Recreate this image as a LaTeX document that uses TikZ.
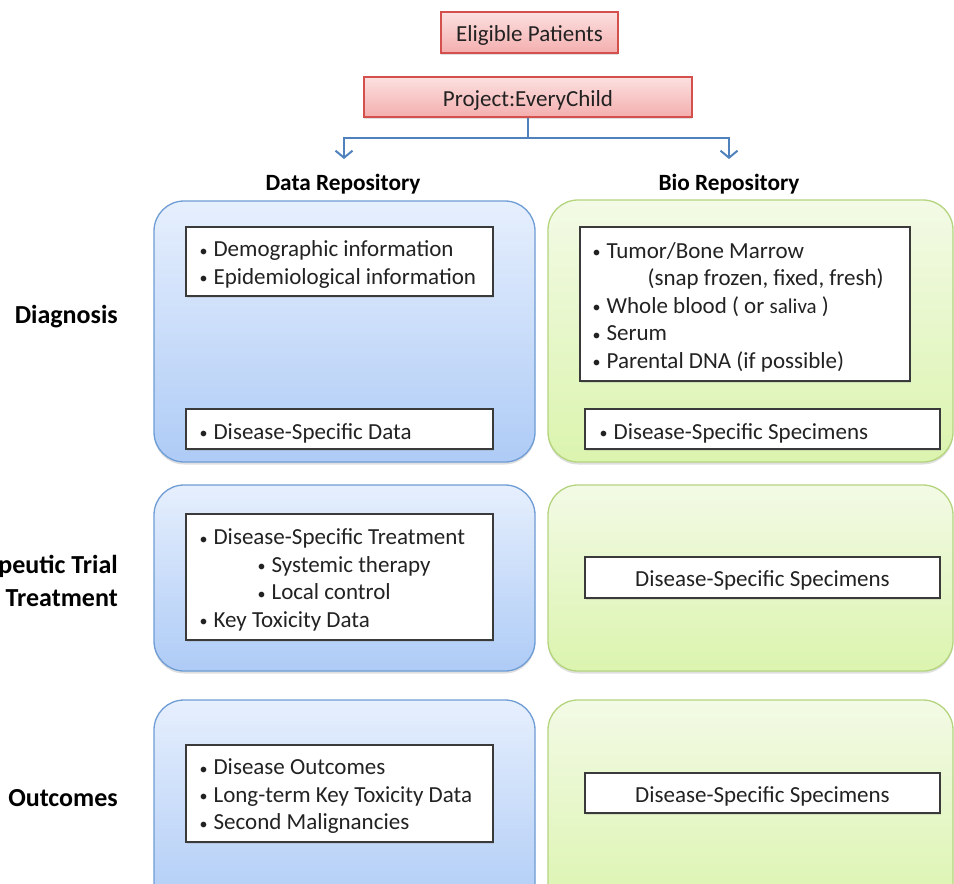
\documentclass[tikz,border=0pt]{standalone}
\usepackage{fontspec}
\setmainfont{Carlito}
\usetikzlibrary{shadows,arrows.meta}
\definecolor{blueTop}{HTML}{E6EFFD}
\definecolor{blueBot}{HTML}{AECBF6}
\definecolor{blueLine}{HTML}{6E9CD4}
\definecolor{greenTop}{HTML}{F3FAE6}
\definecolor{greenBot}{HTML}{DBF4AE}
\definecolor{greenLine}{HTML}{B4D47E}
\definecolor{pinkTop}{HTML}{FCE0E0}
\definecolor{pinkBot}{HTML}{F4AEAE}
\definecolor{pinkLine}{HTML}{D4504D}
\definecolor{connBlue}{HTML}{4F81BD}
\definecolor{innerLine}{HTML}{3A3A3A}
\definecolor{txt}{HTML}{222222}
\newcommand\bul{\makebox[14pt][l]{\raisebox{0.5pt}{\fontsize{16pt}{16pt}\selectfont•}}}
\newcommand\smalltxt[1]{{\fontsize{21pt}{27.5pt}\selectfont #1}}
\tikzset{
  bodyfont/.style={font=\fontsize{23pt}{27.5pt}\selectfont, text=txt},
  outerblue/.style={rounded corners=30pt, draw=blueLine, line width=1.3pt,
     top color=blueTop, bottom color=blueBot,
     drop shadow={opacity=0.25, shadow xshift=0pt, shadow yshift=-2.5pt}},
  outergreen/.style={rounded corners=30pt, draw=greenLine, line width=1.3pt,
     top color=greenTop, bottom color=greenBot,
     drop shadow={opacity=0.25, shadow xshift=0pt, shadow yshift=-2.5pt}},
  pinkbox/.style={rectangle, draw=pinkLine, line width=1.2pt, top color=pinkTop, bottom color=pinkBot,
     drop shadow={opacity=0.25, shadow xshift=0pt, shadow yshift=-2pt}, inner sep=0pt},
  inbox/.style={rectangle, draw=innerLine, line width=1.2pt, fill=white, inner sep=0pt,
     drop shadow={opacity=0.2, shadow xshift=1pt, shadow yshift=-1.5pt}},
  intext/.style={bodyfont, align=left, inner sep=0pt, anchor=west},
  boxtext/.style={bodyfont, inner sep=0pt},
  head/.style={font=\fontsize{23.3pt}{27pt}\selectfont\bfseries, text=black, inner sep=0pt},
  rowlab/.style={font=\fontsize{26pt}{33pt}\selectfont\bfseries, text=black, inner sep=0pt, align=right, anchor=east},
  conn/.style={draw=connBlue, line width=2pt},
  connarr/.style={conn, -{Straight Barb[length=7pt,width=17pt,line width=2pt]}},
}
\begin{document}
\begin{tikzpicture}[x=1pt,y=-1pt]
\useasboundingbox (0,0) rectangle (954,884);
\clip (0,0) rectangle (954,884);

% top boxes
\node[pinkbox, minimum width=177pt, minimum height=41pt] (elig) at (529.5,32.5) {};
\node[boxtext] (eligT) at ([yshift=-3pt]elig.center) {Eligible Patients};
\node[pinkbox, minimum width=328pt, minimum height=40pt] (proj) at (528,97) {};
\node[boxtext] (projT) at ([yshift=-3pt]proj.center) {Project:EveryChild};

% headings
\node[head] (dataH) at (343,184) {Data Repository};
\node[head] (bioH) at (729,184) {Bio Repository};

% connectors
\coordinate (junc) at (528,138);
\coordinate (dataTip) at (344,159);
\coordinate (bioTip) at (729,159);
\draw[conn] (proj.south) -- (junc);
\draw[connarr] (junc) -| (dataTip);
\draw[connarr] (junc) -| (bioTip);

% outer containers
\path[outerblue] (154,201) rectangle (535,462);
\path[outergreen] (548,200) rectangle (953,462);
\path[outerblue] (154,485) rectangle (535,671);
\path[outergreen] (548,485) rectangle (953,671);
\path[outerblue] (154,700) rectangle (535,915);
\path[outergreen] (548,700) rectangle (953,915);

% row labels
\node[rowlab] (diag) at (118,317) {Diagnosis};
\node[rowlab] (ther) at (118,581) {peutic Trial\\Treatment};
\node[rowlab] (outc) at (118,798) {Outcomes};

% row 1
\node[inbox, minimum width=307pt, minimum height=69pt] (d1a) at (339.5,261.5) {};
\node[intext] (d1aT) at ([xshift=14pt,yshift=-3pt]d1a.west)
  {\bul Demographic information\\ \bul Epidemiological information};
\node[inbox, minimum width=307pt, minimum height=40pt] (d1b) at (339.5,429) {};
\node[intext] (d1bT) at ([xshift=14pt,yshift=-4pt]d1b.west)
  {\bul Disease-Specific Data};
\node[inbox, minimum width=330pt, minimum height=154pt] (g1a) at (745,304) {};
\node[intext] (g1aT) at ([xshift=13pt,yshift=-3pt]g1a.west)
  {\bul Tumor/Bone Marrow\\ \hspace*{55pt}(snap frozen, fixed, fresh)\\ \bul Whole blood ( or \smalltxt{saliva} )\\ \bul Serum\\ \bul Parental DNA (if possible)};
\node[inbox, minimum width=355pt, minimum height=40pt] (g1b) at (762.5,429) {};
\node[intext] (g1bT) at ([xshift=15pt,yshift=-4pt]g1b.west)
  {\bul Disease-Specific Specimens};

% row 2
\node[inbox, minimum width=307pt, minimum height=126pt] (d2) at (339.5,577) {};
\node[intext] (d2T) at ([xshift=14pt,yshift=-3pt]d2.west)
  {\bul Disease-Specific Treatment\\ \hspace*{58pt}\bul Systemic therapy\\ \hspace*{58pt}\bul Local control\\ \bul Key Toxicity Data};
\node[inbox, minimum width=355pt, minimum height=41pt] (g2) at (762.5,577.5) {};
\node[boxtext] (g2T) at ([yshift=-3pt]g2.center) {Disease-Specific Specimens};

% row 3
\node[inbox, minimum width=307pt, minimum height=97pt] (d3) at (339.5,793.5) {};
\node[intext] (d3T) at ([xshift=14pt,yshift=-3pt]d3.west)
  {\bul Disease Outcomes\\ \bul Long-term Key Toxicity Data\\ \bul Second Malignancies};
\node[inbox, minimum width=355pt, minimum height=40pt] (g3) at (762.5,793) {};
\node[boxtext] (g3T) at ([yshift=-3pt]g3.center) {Disease-Specific Specimens};
\end{tikzpicture}
\end{document}
